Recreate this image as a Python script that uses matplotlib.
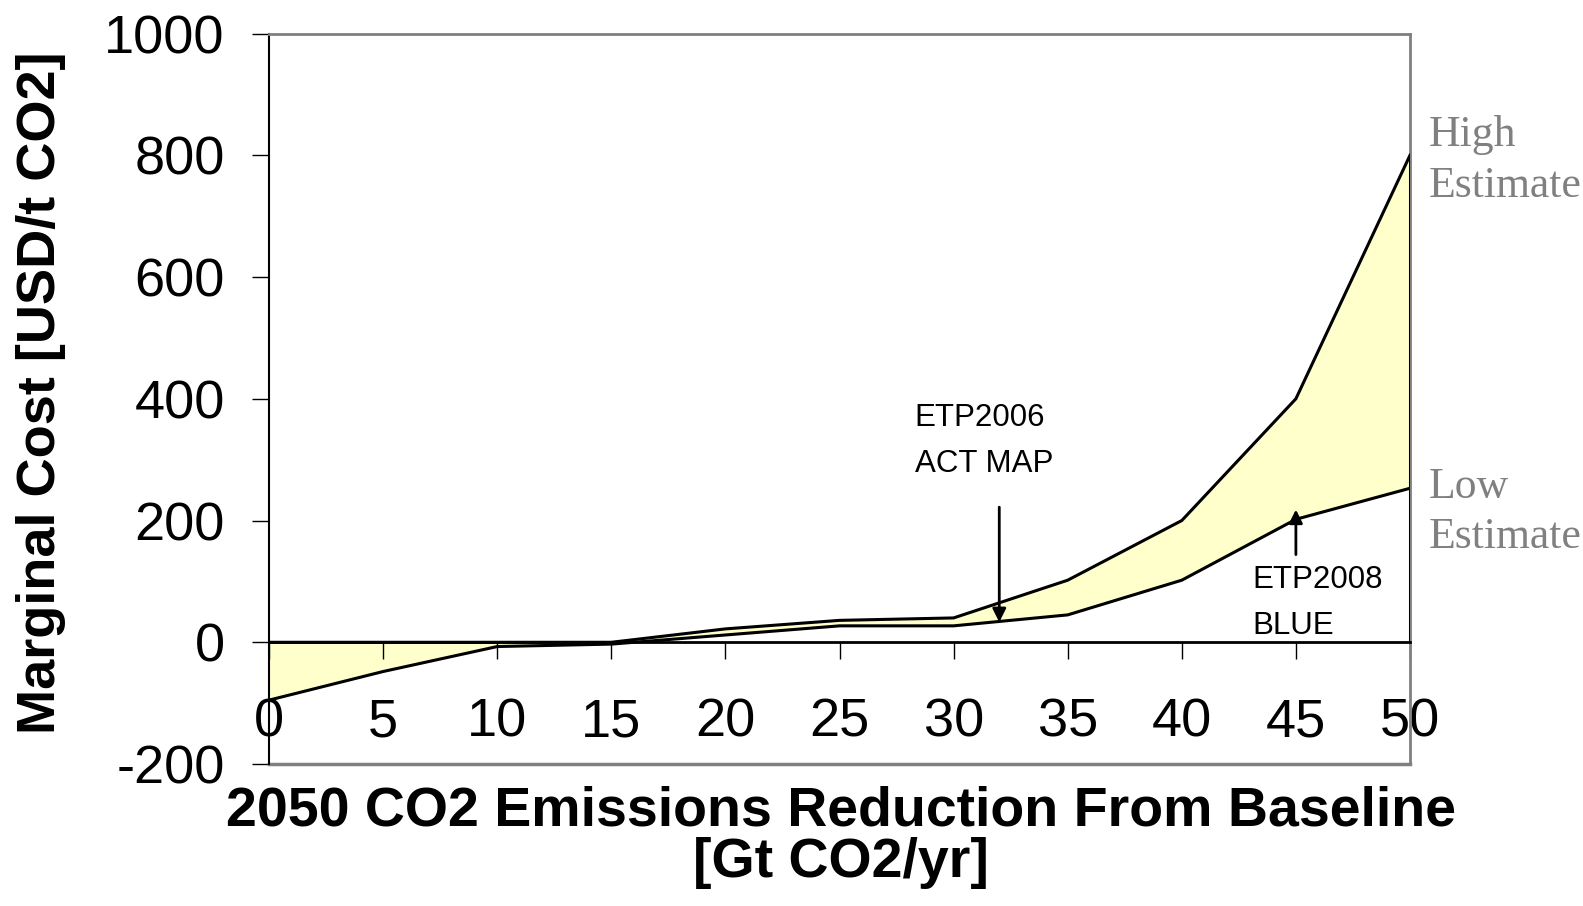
import matplotlib

matplotlib.use("Agg")

import matplotlib.pyplot as plt
import numpy as np

# 2050 CO2 emissions reduction from baseline [Gt CO2/yr]
reduction = [0, 5, 10, 15, 20, 25, 30, 35, 40, 45, 50]
# marginal cost [USD/t CO2]
high_estimate = [0, 0, 0, 0, 22, 36, 40, 102, 200, 400, 800]
low_estimate = [-95, -48, -7, -3, 12, 27, 27, 45, 102, 202, 253]

x_ticks = [0, 5, 10, 15, 20, 25, 30, 35, 40, 45, 50]
y_ticks = [-200, 0, 200, 400, 600, 800, 1000]

SANS = "Liberation Sans"
SERIF = "Liberation Serif"
GREY = "#808080"

plt.rcParams["axes.unicode_minus"] = False

fig = plt.figure(figsize=(15.83, 9.06), dpi=100)
ax = fig.add_axes([0.170, 0.1567, 0.7207, 0.8063])

ax.fill_between(reduction, low_estimate, high_estimate,
                facecolor="#FFFFCC", edgecolor="none", zorder=1)
ax.plot(reduction, high_estimate, color="black", linewidth=2.2, zorder=3)
ax.plot(reduction, low_estimate, color="black", linewidth=2.2, zorder=3)
ax.vlines(reduction[-1], 0, high_estimate[-1], color="black",
          linewidth=2.2, zorder=3)

ax.set_xlim(0, 50)
ax.set_ylim(-200, 1000)
ax.set_xticks(x_ticks)
ax.set_yticks(y_ticks)

# x axis crosses at zero, grey frame round the rest
ax.spines["bottom"].set_position(("data", 0))
ax.spines["bottom"].set_color("black")
ax.spines["bottom"].set_linewidth(2)
ax.spines["bottom"].set_zorder(4)
ax.spines["left"].set_color("black")
ax.spines["left"].set_linewidth(1.5)
for side in ("top", "right"):
    ax.spines[side].set_color(GREY)
    ax.spines[side].set_linewidth(2)
ax.axhline(-200, color=GREY, linewidth=2.5, clip_on=False)

ax.tick_params(axis="x", direction="out", length=12, width=1,
               pad=28, labelsize=39)
ax.tick_params(axis="y", direction="out", length=12, width=1,
               pad=20, labelsize=39)
for lab in ax.get_xticklabels() + ax.get_yticklabels():
    lab.set_fontfamily(SANS)

ax.set_ylabel("Marginal Cost [USD/t CO2]", fontsize=39,
              fontweight="bold", fontfamily=SANS, va="center")
ax.yaxis.set_label_coords(-0.2003, 0.508)
ax.set_xlabel("2050 CO2 Emissions Reduction From Baseline\n[Gt CO2/yr]",
              fontsize=40, fontweight="bold", fontfamily=SANS,
              va="center", linespacing=0.98)
ax.xaxis.set_label_coords(0.501, -0.1)

# annotations
ax.annotate("", xy=(32, 33), xytext=(32, 222),
            arrowprops=dict(arrowstyle="-|>", color="black", lw=2,
                            mutation_scale=20, shrinkA=0, shrinkB=0),
            zorder=5)
ax.text(28.3, 330, "ETP2006\nACT MAP", fontsize=22.5, fontfamily=SANS,
        ha="left", va="center", linespacing=1.7)

ax.annotate("", xy=(45, 218), xytext=(45, 144),
            arrowprops=dict(arrowstyle="-|>", color="black", lw=2,
                            mutation_scale=20, shrinkA=0, shrinkB=0),
            zorder=5)
ax.text(43.1, 64, "ETP2008\nBLUE", fontsize=22.5, fontfamily=SANS,
        ha="left", va="center", linespacing=1.7)

ax.text(50.83, 792, "High\nEstimate", fontsize=31.5, fontfamily=SERIF,
        color=GREY, ha="left", va="center", linespacing=1.35,
        clip_on=False)
ax.text(50.83, 214, "Low\nEstimate", fontsize=31.5, fontfamily=SERIF,
        color=GREY, ha="left", va="center", linespacing=1.35,
        clip_on=False)

fig.savefig("out.png", dpi=100)
